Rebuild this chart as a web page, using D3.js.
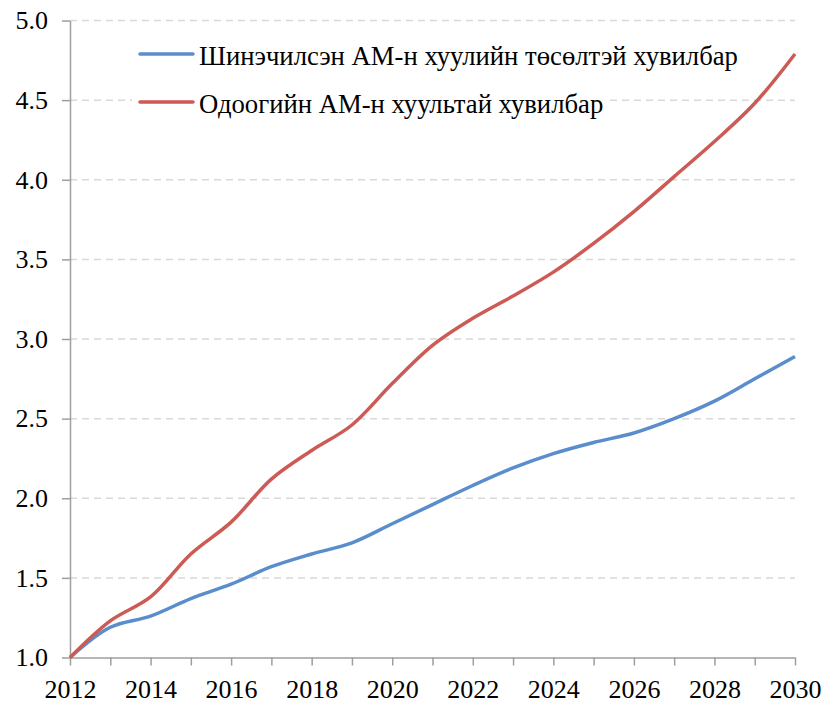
<!DOCTYPE html>
<html>
<head>
<meta charset="utf-8">
<script src="https://cdn.jsdelivr.net/npm/d3@7"></script>
<style>
  body { margin: 0; background: #fff; }
  svg { display: block; }
</style>
</head>
<body>
<svg id="chart" width="825" height="703"></svg>
<script>
// years on the x axis
const years = d3.range(2012, 2031);

// Шинэчилсэн АМ-н хуулийн төсөлтэй хувилбар
const draftLaw = [1.00, 1.19, 1.26, 1.37, 1.46, 1.57, 1.65, 1.72, 1.84, 1.96, 2.08, 2.19, 2.28, 2.35, 2.41, 2.50, 2.61, 2.75, 2.89];
// Одоогийн АМ-н хуультай хувилбар
const currentLaw = [1.00, 1.23, 1.38, 1.65, 1.85, 2.12, 2.30, 2.46, 2.72, 2.96, 3.13, 3.27, 3.42, 3.60, 3.80, 4.02, 4.24, 4.48, 4.79];

const yTicks = [1.0, 1.5, 2.0, 2.5, 3.0, 3.5, 4.0, 4.5, 5.0];
const xLabels = d3.range(2012, 2031, 2);

const series = [
  { name: 'Шинэчилсэн АМ-н хуулийн төсөлтэй хувилбар', values: draftLaw, color: '#5a8dcb' },
  { name: 'Одоогийн АМ-н хуультай хувилбар', values: currentLaw, color: '#cc5a55' }
];

const FONT = '"Liberation Serif", "Times New Roman", Times, serif';

const svg = d3.select('#chart');
const plotLeft = 70, plotRight = 795, plotTop = 20.5, plotBottom = 657.5;

const x = d3.scaleLinear().domain([2012, 2030]).range([plotLeft, plotRight]);
const y = d3.scaleLinear().domain([1, 5]).range([plotBottom, plotTop]);

// dashed gridlines
svg.append('g')
  .selectAll('line')
  .data(yTicks.filter(d => d > 1))
  .join('line')
  .attr('x1', plotLeft)
  .attr('x2', plotRight)
  .attr('y1', d => y(d))
  .attr('y2', d => y(d))
  .attr('stroke', '#d9d9d9')
  .attr('stroke-width', 1.5)
  .attr('stroke-dasharray', '7,5');

// y axis
const yAxis = svg.append('g')
  .attr('transform', `translate(${plotLeft},0)`)
  .call(d3.axisLeft(y).tickValues(yTicks).tickFormat(d3.format('.1f')).tickSize(8).tickSizeOuter(0).tickPadding(14));

// x axis: ticks every year, labels every 2 years
const xAxis = svg.append('g')
  .attr('transform', `translate(0,${plotBottom})`)
  .call(d3.axisBottom(x).tickValues(years)
    .tickFormat(d => xLabels.includes(d) ? d : '')
    .tickSize(8).tickSizeOuter(0).tickPadding(14));

[yAxis, xAxis].forEach(ax => {
  ax.select('.domain').attr('stroke', '#9e9e9e').attr('stroke-width', 1.5);
  ax.selectAll('.tick line').attr('stroke', '#9e9e9e').attr('stroke-width', 1.5);
  ax.selectAll('.tick text')
    .attr('fill', '#000')
    .style('font-family', FONT)
    .style('font-size', '26px');
});

// smoothed lines
const line = d3.line()
  .x((d, i) => x(years[i]))
  .y(d => y(d))
  .curve(d3.curveCatmullRom.alpha(0.5));

svg.append('g')
  .selectAll('path')
  .data(series)
  .join('path')
  .attr('d', d => line(d.values))
  .attr('fill', 'none')
  .attr('stroke', d => d.color)
  .attr('stroke-width', 3.5)
  .attr('stroke-linejoin', 'round');

// legend
const legend = svg.append('g');
const entries = legend.selectAll('g')
  .data(series)
  .join('g')
  .attr('transform', (d, i) => `translate(140,${54 + i * 48})`);

entries.append('rect')
  .attr('class', 'bg')
  .attr('x', -8)
  .attr('y', -16)
  .attr('height', 32)
  .attr('fill', '#fff');

entries.append('line')
  .attr('x1', 0)
  .attr('x2', 53)
  .attr('stroke', d => d.color)
  .attr('stroke-width', 3.5)
  .attr('stroke-linecap', 'round');

entries.append('text')
  .attr('x', 59)
  .attr('y', 11)
  .style('font-family', FONT)
  .style('font-size', '26.7px')
  .attr('fill', '#000')
  .text(d => d.name);

entries.each(function() {
  const g = d3.select(this);
  const w = g.select('text').node().getComputedTextLength();
  g.select('rect.bg').attr('width', 59 + w + 10);
});
</script>
</body>
</html>
